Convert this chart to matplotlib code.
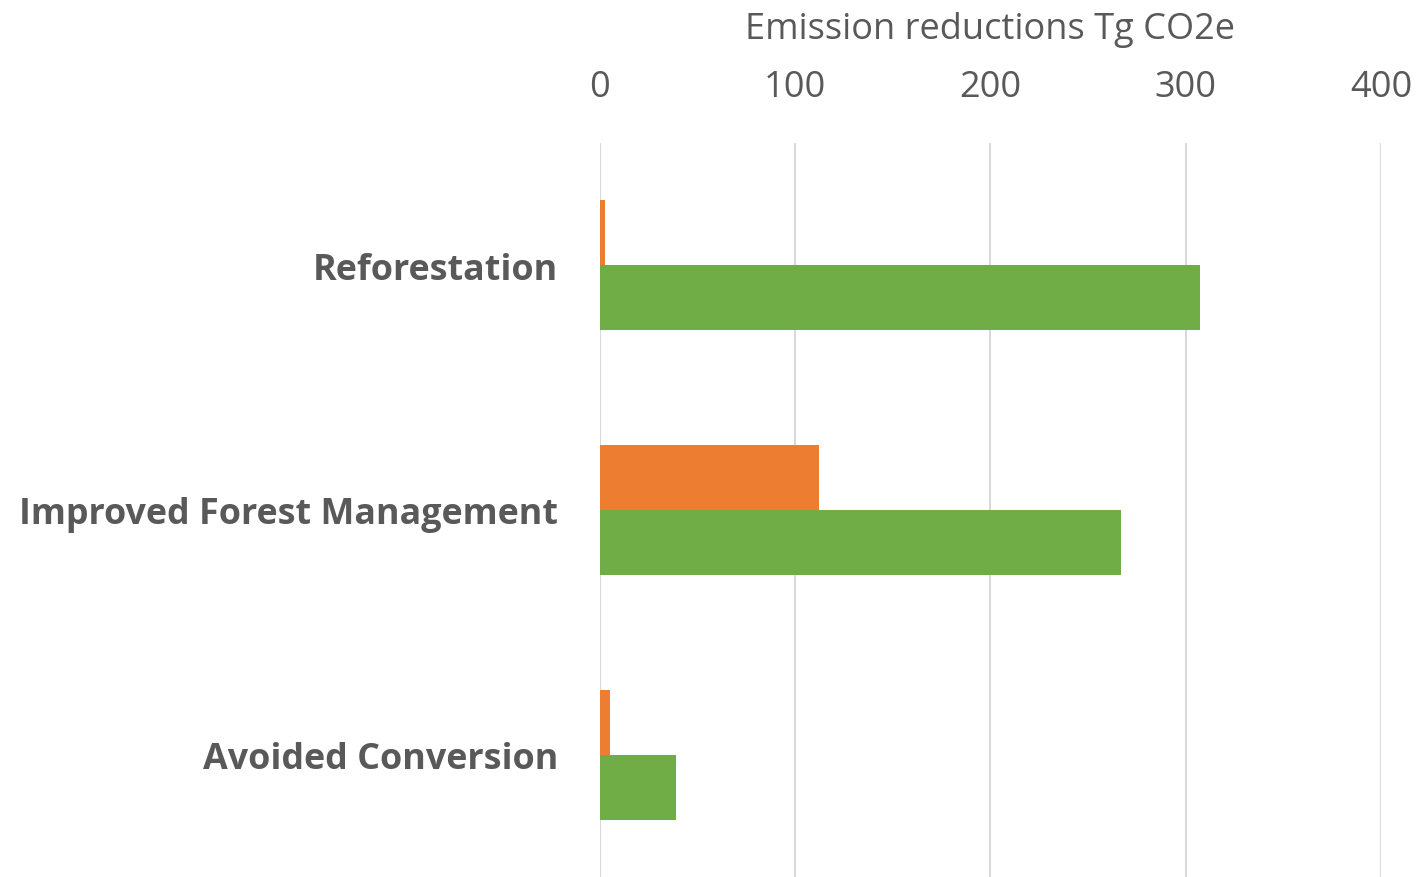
import matplotlib
matplotlib.use("Agg")
import matplotlib.pyplot as plt
import numpy as np

# Данные
categories = ["Reforestation", "Improved Forest Management", "Avoided Conversion"]
orange_values = [2.6, 112, 5]
green_values = [307.5, 267, 39]
x_ticks = [0, 100, 200, 300, 400]

plt.rcParams['font.family'] = ['Open Sans', 'DejaVu Sans']

fig = plt.figure(figsize=(14.19, 8.78), dpi=100)
ax = fig.add_axes([0.4228, 0.0, 0.5504, 0.8360])

y = np.arange(len(categories))
h = 0.265
ax.barh(y - h / 2, orange_values, height=h, color='#ED7D31', zorder=3)
ax.barh(y + h / 2, green_values, height=h, color='#70AD47', zorder=3)

ax.set_ylim(len(categories) - 0.5, -0.5)
ax.set_xlim(0, 400)
ax.set_yticks(y)
ax.set_yticklabels(categories, fontsize=25.8, fontweight='bold', color='#595959')
ax.set_xticks(x_ticks)
ax.xaxis.tick_top()
ax.xaxis.set_label_position('top')
ax.tick_params(axis='x', labelsize=26, colors='#595959', length=0, pad=27)
ax.tick_params(axis='y', length=0, pad=30)
ax.set_xlabel('Emission reductions Tg CO2e', fontsize=26, color='#595959', labelpad=23)

ax.grid(axis='x', color='#D9D9D9', linewidth=1.5, zorder=0)
for s in ax.spines.values():
    s.set_visible(False)

fig.savefig('out.png', dpi=100)
